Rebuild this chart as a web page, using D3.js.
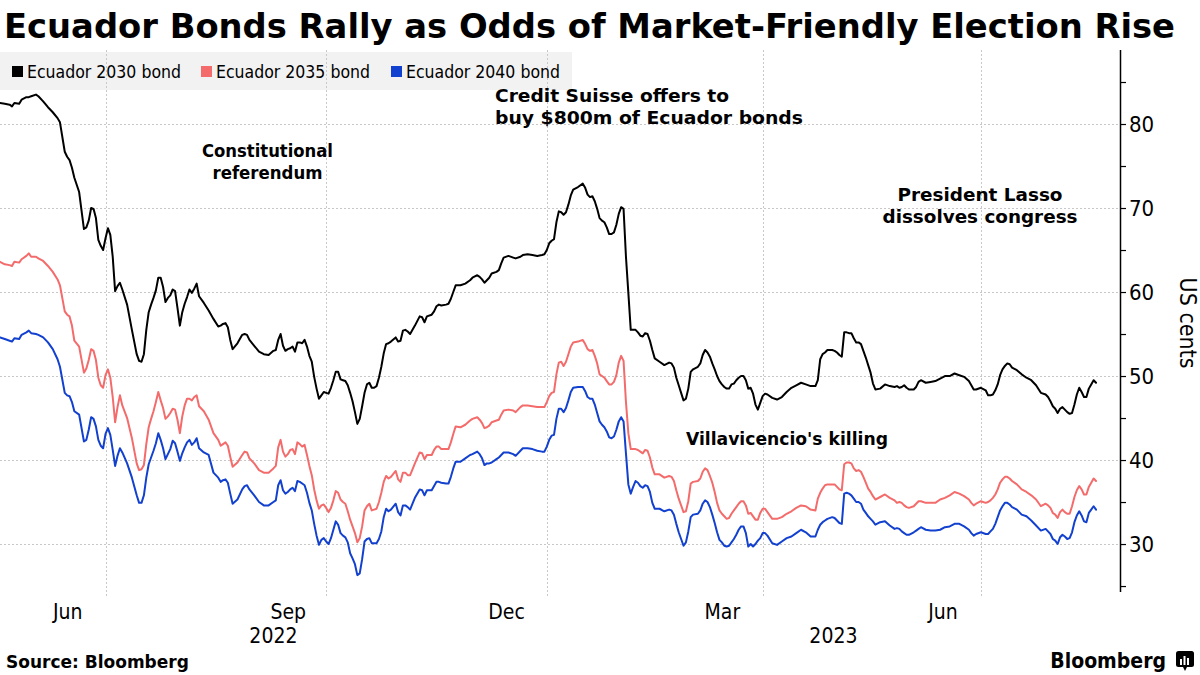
<!DOCTYPE html>
<html><head><meta charset="utf-8">
<script src="https://cdn.jsdelivr.net/npm/d3@7"></script>
<style>
html,body{margin:0;padding:0;background:#fff;}
svg text{font-family:"DejaVu Sans Condensed","DejaVu Sans",sans-serif;font-stretch:condensed;}
</style></head><body>
<svg id="chart" width="1200" height="675"></svg>
<script>
const dates = [
"2022-05-18","2022-05-20","2022-05-22","2022-05-23","2022-05-24","2022-05-26","2022-05-27","2022-05-29","2022-05-30","2022-05-31",
"2022-06-02","2022-06-03","2022-06-05","2022-06-07","2022-06-09","2022-06-11","2022-06-12","2022-06-14","2022-06-15","2022-06-16",
"2022-06-17","2022-06-18","2022-06-20","2022-06-22","2022-06-23","2022-06-24","2022-06-25","2022-06-26","2022-06-27","2022-06-28",
"2022-06-29","2022-06-30","2022-07-01","2022-07-02","2022-07-03","2022-07-04","2022-07-05","2022-07-06","2022-07-07","2022-07-08",
"2022-07-10","2022-07-12","2022-07-14","2022-07-15","2022-07-16","2022-07-17","2022-07-18","2022-07-19","2022-07-20","2022-07-21",
"2022-07-22","2022-07-23","2022-07-24","2022-07-25","2022-07-26","2022-07-27","2022-07-28","2022-07-29","2022-07-30","2022-07-31",
"2022-08-01","2022-08-02","2022-08-03","2022-08-04","2022-08-05","2022-08-06","2022-08-07","2022-08-08","2022-08-09","2022-08-11",
"2022-08-13","2022-08-15","2022-08-17","2022-08-18","2022-08-19","2022-08-20","2022-08-21","2022-08-22","2022-08-23","2022-08-25",
"2022-08-27","2022-08-28","2022-08-29","2022-08-30","2022-09-01","2022-09-03","2022-09-05","2022-09-07","2022-09-09",
"2022-09-10","2022-09-11","2022-09-12","2022-09-13","2022-09-14","2022-09-15","2022-09-16","2022-09-17","2022-09-18","2022-09-19",
"2022-09-20","2022-09-21","2022-09-22","2022-09-23","2022-09-24","2022-09-25","2022-09-26","2022-09-27","2022-09-28","2022-09-29",
"2022-09-30","2022-10-01","2022-10-02","2022-10-03","2022-10-04","2022-10-05","2022-10-06","2022-10-07","2022-10-08","2022-10-09",
"2022-10-10","2022-10-11","2022-10-12","2022-10-13","2022-10-14","2022-10-15","2022-10-16","2022-10-17","2022-10-18","2022-10-19",
"2022-10-20","2022-10-21","2022-10-22","2022-10-23","2022-10-24","2022-10-25","2022-10-26","2022-10-27","2022-10-28",
"2022-10-30","2022-10-31","2022-11-01","2022-11-02","2022-11-03","2022-11-04","2022-11-05","2022-11-06","2022-11-07",
"2022-11-09","2022-11-10","2022-11-11","2022-11-12",
"2022-11-14","2022-11-15","2022-11-16","2022-11-17","2022-11-18",
"2022-11-20","2022-11-21","2022-11-22","2022-11-23","2022-11-24",
"2022-11-26","2022-11-28","2022-11-30","2022-12-01",
"2022-12-03","2022-12-04","2022-12-05","2022-12-06","2022-12-07","2022-12-08","2022-12-09",
"2022-12-11","2022-12-12","2022-12-13","2022-12-14",
"2022-12-16","2022-12-18","2022-12-19","2022-12-21","2022-12-22","2022-12-24","2022-12-26","2022-12-28","2022-12-30","2022-12-31","2023-01-01","2023-01-02",
"2023-01-03","2023-01-04","2023-01-05","2023-01-06","2023-01-07","2023-01-08","2023-01-09","2023-01-10","2023-01-11","2023-01-12",
"2023-01-14","2023-01-16","2023-01-17","2023-01-18","2023-01-19","2023-01-20","2023-01-21","2023-01-22","2023-01-23","2023-01-24",
"2023-01-25","2023-01-26","2023-01-27","2023-01-28","2023-01-29","2023-01-30","2023-01-31","2023-02-01","2023-02-02","2023-02-03",
"2023-02-04","2023-02-05","2023-02-06","2023-02-07","2023-02-08","2023-02-09","2023-02-10","2023-02-11","2023-02-12","2023-02-13",
"2023-02-14","2023-02-15",
"2023-02-17","2023-02-19","2023-02-21","2023-02-22","2023-02-23","2023-02-24","2023-02-25","2023-02-26","2023-02-27","2023-02-28","2023-03-01","2023-03-02","2023-03-03",
"2023-03-05","2023-03-06","2023-03-07","2023-03-08","2023-03-09","2023-03-10","2023-03-11","2023-03-12","2023-03-13","2023-03-14",
"2023-03-15","2023-03-16","2023-03-17","2023-03-18","2023-03-19","2023-03-20","2023-03-21","2023-03-22","2023-03-23","2023-03-24",
"2023-03-25","2023-03-26","2023-03-27","2023-03-28","2023-03-29","2023-03-30","2023-03-31","2023-04-01","2023-04-02","2023-04-03",
"2023-04-05","2023-04-07","2023-04-09","2023-04-11","2023-04-13","2023-04-15","2023-04-17","2023-04-19","2023-04-21","2023-04-23",
"2023-04-24","2023-04-25","2023-04-26","2023-04-27","2023-04-28",
"2023-04-30","2023-05-01","2023-05-02","2023-05-03","2023-05-04","2023-05-05","2023-05-06","2023-05-07","2023-05-08","2023-05-09","2023-05-10","2023-05-11","2023-05-12","2023-05-13","2023-05-14","2023-05-15","2023-05-16","2023-05-17","2023-05-18",
"2023-05-20","2023-05-22","2023-05-24","2023-05-26",
"2023-05-27","2023-05-28","2023-05-29","2023-05-30","2023-05-31","2023-06-01",
"2023-06-03","2023-06-04","2023-06-05","2023-06-06",
"2023-06-08","2023-06-10","2023-06-12","2023-06-14","2023-06-16","2023-06-18","2023-06-20","2023-06-22","2023-06-24","2023-06-26",
"2023-06-27","2023-06-28","2023-06-29",
"2023-07-01","2023-07-03",
"2023-07-04","2023-07-05","2023-07-06","2023-07-07","2023-07-08","2023-07-09","2023-07-10","2023-07-11","2023-07-12","2023-07-13","2023-07-14",
"2023-07-16","2023-07-18","2023-07-20","2023-07-22","2023-07-24","2023-07-26","2023-07-28",
"2023-07-29","2023-07-30","2023-07-31","2023-08-01","2023-08-02","2023-08-03","2023-08-04","2023-08-05","2023-08-06","2023-08-07","2023-08-08","2023-08-09","2023-08-10","2023-08-11","2023-08-12","2023-08-13","2023-08-14","2023-08-15","2023-08-16","2023-08-17","2023-08-18"
];

const bond2030 = [
82.5,82.4,82.3,82.1,82.5,82.4,82.9,83.2,83.2,83.3,
83.5,83.3,82.7,82.0,81.4,80.7,80.2,76.7,76.1,75.7,
74.8,73.6,71.9,67.5,67.7,68.5,70.0,69.9,68.8,66.2,
65.5,65.0,66.4,67.6,66.8,64.2,60.1,60.7,61.1,60.3,
58.5,55.5,52.6,51.8,51.7,52.6,55.5,57.6,58.5,59.3,
60.2,61.7,61.7,60.6,58.8,59.3,59.6,60.3,60.1,58.1,
56.0,57.6,58.6,59.4,60.3,59.9,60.4,61.0,59.5,58.7,
57.8,56.8,55.9,56.0,56.2,56.3,55.8,54.3,53.2,53.9,
54.9,55.0,54.9,54.3,53.6,52.9,52.6,52.5,53.0,
53.1,54.3,55.0,53.6,53.0,53.2,53.3,53.5,52.9,54.0,
54.0,53.9,54.3,53.5,52.4,51.7,49.9,48.5,47.3,47.7,
48.1,48.0,47.9,48.6,49.5,50.5,50.5,49.6,49.5,49.4,
48.9,48.0,47.0,45.7,44.3,44.9,46.4,48.0,49.0,49.2,
48.6,48.6,48.8,49.8,51.1,52.7,53.8,53.9,54.1,
54.6,54.1,54.2,55.4,55.5,55.3,55.0,55.5,56.0,
57.1,57.0,56.4,57.1,
57.3,57.7,58.3,58.5,58.4,
58.5,58.6,59.2,60.0,60.8,
60.8,61.0,61.4,61.7,
62.0,61.8,61.5,61.1,61.4,61.7,62.2,
62.4,62.6,63.4,64.1,
64.3,64.1,64.0,64.2,64.4,64.5,64.4,64.3,64.4,64.5,65.0,65.8,
66.1,66.3,68.3,69.6,69.5,69.2,69.5,70.4,71.5,72.2,
72.5,72.9,72.4,71.6,71.3,71.4,70.8,69.9,68.8,68.5,
68.3,67.7,66.9,66.9,67.1,68.0,69.3,70.1,69.9,64.2,
59.9,55.5,55.5,55.5,55.2,54.8,54.7,55.1,55.0,54.2,
53.1,52.1,
51.7,51.3,51.6,51.5,51.0,49.8,48.9,48.0,47.1,47.3,48.5,50.5,50.8,
51.1,51.5,52.5,53.1,52.8,52.3,51.5,50.8,50.0,49.4,
49.0,48.7,48.5,48.5,49.0,49.1,49.5,49.8,50.0,50.0,
49.5,48.5,48.6,47.9,46.6,46.0,46.8,47.6,47.9,47.8,
47.4,47.2,47.5,48.1,48.6,48.9,49.2,49.0,48.8,48.8,
49.5,52.0,52.6,52.8,53.1,
53.1,53.0,52.8,52.5,52.3,55.2,55.2,55.1,55.1,54.5,54.0,54.0,53.8,53.0,52.2,51.3,50.4,49.1,48.4,
48.5,49.0,48.8,48.7,
48.8,48.6,48.7,48.9,48.6,48.4,
48.4,48.7,49.3,49.5,
49.2,49.3,49.4,49.7,50.0,50.0,50.3,50.1,49.9,49.4,
48.9,48.4,48.4,
48.6,48.3,
47.7,47.7,47.8,48.3,49.0,50.1,50.8,51.2,51.5,51.4,51.0,
50.7,50.2,49.8,49.5,48.9,48.0,47.8,
47.5,47.0,46.4,46.1,45.6,46.1,46.3,46.0,45.7,45.5,45.6,46.6,47.8,48.6,48.1,47.5,47.5,48.5,49.0,49.5,49.2
];

const bond2035 = [
63.6,63.3,63.2,63.1,63.6,63.5,63.9,64.3,64.6,64.2,
64.2,64.0,63.7,63.1,62.4,61.5,60.8,57.7,57.3,57.1,
56.0,54.2,53.5,50.4,50.9,51.9,53.2,53.0,51.9,49.8,
48.9,48.6,50.1,50.8,49.8,47.5,44.5,46.3,47.7,46.5,
45.0,42.6,39.6,38.8,38.9,39.4,41.9,43.9,44.9,45.8,
46.9,48.1,47.1,46.2,44.9,45.2,45.6,46.1,46.0,44.8,
43.2,45.2,46.5,47.3,47.3,47.1,47.5,47.7,46.4,45.8,
44.8,43.2,42.4,41.7,41.9,42.1,41.7,40.4,39.2,39.7,
40.6,41.0,40.9,40.2,39.6,38.8,38.5,38.5,39.0,
39.3,41.5,42.4,41.0,40.4,40.7,41.2,41.3,40.7,42.1,
41.9,41.6,41.8,40.6,39.3,38.2,36.5,35.2,34.2,34.6,
34.7,34.3,33.8,34.3,35.2,36.3,36.1,35.3,35.0,34.8,
33.9,32.9,32.1,31.3,30.2,30.7,32.1,34.0,34.5,34.8,
34.0,34.1,34.2,35.0,36.1,37.4,38.1,37.8,38.0,
38.7,37.7,37.4,38.5,38.5,38.2,38.2,38.9,39.6,
40.9,40.8,40.1,40.6,
40.6,41.2,41.6,41.6,41.3,
41.3,41.3,42.1,43.1,44.0,
43.9,44.2,44.7,44.9,
45.1,44.8,44.4,43.8,43.9,44.1,44.5,
44.7,44.8,45.4,45.9,
46.0,45.9,45.7,46.3,46.5,46.5,46.4,46.3,46.3,46.3,46.9,47.6,
48.0,48.1,50.2,51.6,51.7,51.2,51.7,52.6,53.5,54.0,
54.1,54.3,53.8,53.2,53.0,53.1,52.4,51.5,50.2,50.0,
49.8,49.4,49.0,49.0,49.3,50.1,51.6,52.4,51.8,46.9,
43.2,41.3,41.3,41.3,41.2,41.0,40.8,41.2,41.1,40.3,
39.1,38.3,
38.3,37.9,38.1,38.0,37.5,36.4,35.4,34.6,33.8,33.9,35.1,37.2,37.4,
37.5,37.8,38.6,39.0,38.8,38.1,37.3,36.2,34.9,34.0,
33.6,33.3,33.0,33.1,33.6,34.0,34.4,34.8,35.1,35.1,
34.6,33.6,33.7,33.3,32.9,32.9,33.7,34.2,34.2,33.8,
33.0,33.0,33.2,33.6,33.9,34.3,34.6,34.5,34.1,34.0,
35.4,36.1,36.6,37.0,37.1,
37.1,37.1,36.8,36.5,36.4,39.5,39.7,39.7,39.6,39.0,38.7,38.8,38.6,38.0,37.3,36.6,36.2,35.7,35.3,
35.6,35.9,35.5,35.2,
34.9,35.0,34.9,34.6,34.4,34.3,
34.5,34.8,35.1,35.1,
34.9,34.9,34.9,35.3,35.5,35.8,36.2,36.0,35.7,35.3,
34.9,34.6,34.8,
35.1,34.9,
35.0,35.2,35.5,35.9,36.5,37.3,37.7,38.0,38.0,37.8,37.5,
37.1,36.5,36.2,35.8,35.3,34.5,34.8,
34.6,34.3,33.7,33.5,33.1,33.8,34.1,33.8,33.6,33.6,34.5,35.6,36.4,36.9,36.5,35.9,35.9,36.8,37.3,37.8,37.5
];

const bond2040 = [
54.6,54.4,54.2,54.1,54.5,54.4,54.9,55.2,55.4,55.1,
55.0,54.9,54.6,54.0,53.2,52.0,51.1,48.0,47.7,47.6,
46.9,45.8,45.4,42.2,42.4,43.6,45.1,44.9,44.0,42.4,
41.7,41.4,43.1,43.8,43.0,41.2,39.3,40.5,41.4,40.9,
39.6,37.9,35.8,34.9,34.9,35.8,37.9,39.5,40.3,41.1,
42.0,43.2,42.4,41.4,40.1,40.7,41.3,42.3,42.0,41.0,
39.9,40.8,41.5,42.1,42.4,41.8,42.1,42.6,41.4,40.9,
40.6,38.5,37.9,37.4,37.6,37.7,37.3,36.0,34.8,35.3,
36.5,36.9,37.0,36.5,35.8,35.0,34.6,34.6,35.0,
35.2,37.0,37.6,36.4,36.0,36.2,36.5,36.7,36.3,37.5,
37.4,37.2,37.0,36.1,34.9,34.0,32.4,31.0,29.9,30.5,
30.7,30.3,30.0,30.7,31.7,32.7,32.3,31.3,31.0,30.8,
30.2,28.9,28.3,27.6,26.3,26.5,28.2,30.3,30.6,30.7,
30.1,30.1,30.1,30.6,31.5,33.2,34.2,33.9,34.1,
34.8,33.8,33.4,34.6,34.6,34.4,34.1,34.8,35.5,
36.5,36.4,35.8,36.4,
36.4,36.9,37.4,37.4,37.3,
37.2,37.2,38.0,39.0,39.8,
39.8,40.2,40.6,40.7,
41.0,40.7,40.2,39.4,39.6,39.6,39.7,
40.1,40.3,40.6,40.9,
40.9,40.7,40.5,41.1,41.4,41.4,41.3,41.1,41.0,41.0,41.6,42.4,
42.9,43.0,44.9,46.1,46.1,45.7,46.2,47.1,48.1,48.6,
48.7,48.7,48.2,47.5,47.3,47.3,46.6,45.6,44.6,44.2,
43.9,43.4,42.7,42.6,42.8,43.6,44.6,45.1,44.6,40.8,
37.1,36.0,36.8,37.5,37.3,36.9,36.7,37.0,36.9,36.2,
34.9,34.2,
34.2,33.9,34.1,34.0,33.5,32.4,31.4,30.6,29.8,30.2,31.5,33.2,33.5,
33.6,34.0,34.8,35.2,35.0,34.4,33.5,32.5,31.4,30.5,
30.2,29.8,29.7,29.8,30.2,30.6,31.1,31.7,32.1,32.1,
31.3,29.7,30.0,29.7,30.0,30.4,30.7,31.3,31.3,31.0,
30.1,29.9,30.3,30.7,30.9,31.3,31.7,31.4,30.9,30.9,
31.7,32.3,32.6,32.8,33.0,
33.2,33.1,32.8,32.5,32.4,36.0,36.1,36.0,35.8,35.4,35.0,35.0,34.8,34.1,33.7,33.3,33.0,32.7,32.3,
32.6,32.7,32.2,31.8,
31.9,31.8,31.5,31.3,31.1,31.1,
31.4,31.6,31.8,32.0,
31.7,31.6,31.6,31.7,32.0,32.1,32.4,32.4,32.1,31.7,
31.3,31.0,31.2,
31.4,31.2,
31.2,31.5,31.8,32.4,33.2,34.0,34.5,34.9,34.9,34.7,34.4,
34.1,33.5,33.3,32.8,32.2,31.6,31.8,
31.5,31.2,30.6,30.4,30.0,30.8,31.1,30.9,30.6,30.7,31.4,32.6,33.4,33.9,33.4,32.7,32.6,33.7,34.1,34.5,34.1
];

const seriesNames = ["Ecuador 2030 bond", "Ecuador 2035 bond", "Ecuador 2040 bond"];
const seriesColors = ["#000000", "#f46b6b", "#1240cf"];
const yTicks = [30, 40, 50, 60, 70, 80];
const yMinorTicks = [25, 35, 45, 55, 65, 75, 85];
const monthTickDates = ["2022-06-15", "2022-09-15", "2022-12-15", "2023-03-15", "2023-06-15"];
const monthTickLabels = ["Jun", "Sep", "Dec", "Mar", "Jun"];
const gridDates = ["2022-07-01", "2022-10-01", "2023-01-01", "2023-04-01", "2023-07-01"];
const yearLabels = ["2022", "2023"];
const yearSpans = [["2022-05-18", "2023-01-01"], ["2023-01-01", "2023-08-28"]];
const xDomain = ["2022-05-18", "2023-08-28"];
const yDomain = [24.29, 88.81];
const titleText = "Ecuador Bonds Rally as Odds of Market-Friendly Election Rise";
const yAxisTitle = "US cents";
const sourceText = "Source: Bloomberg";
const annotationLines = [
  ["Constitutional", "referendum"],
  ["Credit Suisse offers to", "buy $800m of Ecuador bonds"],
  ["President Lasso", "dissolves congress"],
  ["Villavicencio's killing"]
];

const parse = d3.utcParse("%Y-%m-%d");
const svg = d3.select("#chart");
const W = 1200, H = 675;
const plot = {left: 0, right: 1120, top: 50, bottom: 592};
const condensed = '"DejaVu Sans Condensed","DejaVu Sans",sans-serif';

const x = d3.scaleUtc().domain(xDomain.map(parse)).range([plot.left, plot.right]);
const y = d3.scaleLinear().domain(yDomain).range([plot.bottom, plot.top]);

svg.append("rect").attr("width", W).attr("height", H).attr("fill", "#fff");

// Title
svg.append("text").attr("x", 4).attr("y", 38)
  .attr("font-size", 34).attr("font-weight", "bold").attr("fill", "#000")
  .attr("textLength", 1171).attr("lengthAdjust", "spacingAndGlyphs")
  .text(titleText);

// Legend background
svg.append("rect").attr("x", 0).attr("y", 52).attr("width", 572).attr("height", 38).attr("fill", "#f2f2f2");

// gridlines
const gridG = svg.append("g");
gridG.selectAll("line.h").data(yTicks).join("line")
  .attr("x1", plot.left).attr("x2", plot.right)
  .attr("y1", d => Math.round(y(d)) + 0.5).attr("y2", d => Math.round(y(d)) + 0.5)
  .attr("stroke", "#c8c8c8").attr("stroke-width", 1).attr("stroke-dasharray", "2,2");
gridG.selectAll("line.v").data(gridDates).join("line")
  .attr("x1", d => Math.round(x(parse(d))) + 0.5).attr("x2", d => Math.round(x(parse(d))) + 0.5)
  .attr("y1", plot.top).attr("y2", 597)
  .attr("stroke", "#c8c8c8").attr("stroke-width", 1).attr("stroke-dasharray", "2,2");

// Legend items
const legendX = [12, 201, 391];
const legend = svg.append("g");
seriesNames.forEach((name, i) => {
  legend.append("rect").attr("x", legendX[i]).attr("y", 66).attr("width", 11).attr("height", 11).attr("fill", seriesColors[i]);
  legend.append("text").attr("x", legendX[i] + 15).attr("y", 78).attr("font-size", 17.5).attr("fill", "#000").text(name);
});

// Lines
const parsedDates = dates.map(parse);
const seriesValues = [bond2030, bond2035, bond2040];
const line = d3.line().x(d => x(d[0])).y(d => y(d[1]));
seriesValues.forEach((vals, i) => {
  const pts = parsedDates.map((d, j) => [d, vals[j]]);
  svg.append("path").datum(pts)
    .attr("d", line).attr("fill", "none")
    .attr("stroke", seriesColors[i]).attr("stroke-width", 2)
    .attr("stroke-linejoin", "round").attr("stroke-linecap", "round");
});

// Y axis (right)
const yAxis = d3.axisRight(y).tickValues(yTicks).tickSize(6).tickPadding(3).tickFormat(d3.format("d"));
const yAxisG = svg.append("g").attr("transform", `translate(${plot.right},0)`).call(yAxis);
yAxisG.select(".domain").attr("d", `M0.5,${plot.top}V${plot.bottom}`).attr("stroke", "#000").attr("stroke-width", 1.5);
yAxisG.selectAll(".tick line").attr("stroke", "#000").attr("stroke-width", 1.2);
yAxisG.selectAll(".tick text").attr("font-size", 22).attr("fill", "#000")
  .style("font-family", condensed).style("font-stretch", "condensed");
const yMinor = d3.axisRight(y).tickValues(yMinorTicks).tickSize(6).tickFormat("");
const yMinorG = svg.append("g").attr("transform", `translate(${plot.right},0)`).call(yMinor);
yMinorG.select(".domain").remove();
yMinorG.selectAll(".tick line").attr("stroke", "#000").attr("stroke-width", 1.2);

// Y axis title
svg.append("text").attr("transform", `translate(1180,323) rotate(90)`)
  .attr("text-anchor", "middle").attr("font-size", 23).attr("fill", "#000").text(yAxisTitle);

// X axis labels
const xAxis = d3.axisBottom(x).tickValues(monthTickDates.map(parse)).tickSize(0).tickPadding(0)
  .tickFormat((d, i) => monthTickLabels[i]);
const xAxisG = svg.append("g").attr("transform", `translate(0,600)`).call(xAxis);
xAxisG.select(".domain").remove();
xAxisG.selectAll(".tick text").attr("font-size", 21).attr("fill", "#000").attr("dy", "0.9em")
  .style("font-family", condensed).style("font-stretch", "condensed");

svg.append("g").selectAll("text").data(yearLabels).join("text")
  .attr("x", (d, i) => (x(parse(yearSpans[i][0])) + x(parse(yearSpans[i][1]))) / 2)
  .attr("y", 643).attr("text-anchor", "middle").attr("font-size", 21).attr("fill", "#000").text(d => d);

// Annotations
const annG = svg.append("g").attr("font-weight", "bold").attr("font-size", 17).attr("fill", "#000");
function ann(lines, xPos, y0, anchor, lens) {
  lines.forEach((t, i) => {
    annG.append("text").attr("x", xPos).attr("y", y0 + i * 22).attr("text-anchor", anchor)
      .attr("textLength", lens[i]).attr("lengthAdjust", "spacingAndGlyphs").text(t);
  });
}
ann(annotationLines[0], 267.5, 157, "middle", [131, 110]);
ann(annotationLines[1], 495, 102, "start", [234, 308]);
ann(annotationLines[2], 980, 201, "middle", [165, 195]);
ann(annotationLines[3], 686, 445, "start", [202]);

// Footer
svg.append("text").attr("x", 6).attr("y", 668).attr("font-size", 17).attr("font-weight", "bold")
  .style("font-family", '"DejaVu Sans",sans-serif').style("font-stretch", "normal")
  .attr("fill", "#000").text(sourceText);
svg.append("text").attr("x", 1166).attr("y", 668).attr("text-anchor", "end").attr("font-size", 21)
  .attr("font-weight", "bold").attr("fill", "#000").text("Bloomberg");
const logo = svg.append("g").attr("transform", "translate(1176,651)");
logo.append("rect").attr("width", 18).attr("height", 16).attr("rx", 2.5).attr("fill", "#000");
logo.append("path").attr("d", "M7,16 L9,20 L11,16 Z").attr("fill", "#000");
[[4, 8, 2, 6], [7.5, 5, 2, 9], [11, 7, 2, 7]].forEach(b => {
  logo.append("rect").attr("x", b[0]).attr("y", b[1]).attr("width", b[2]).attr("height", b[3]).attr("fill", "#fff");
});
</script>
</body></html>
